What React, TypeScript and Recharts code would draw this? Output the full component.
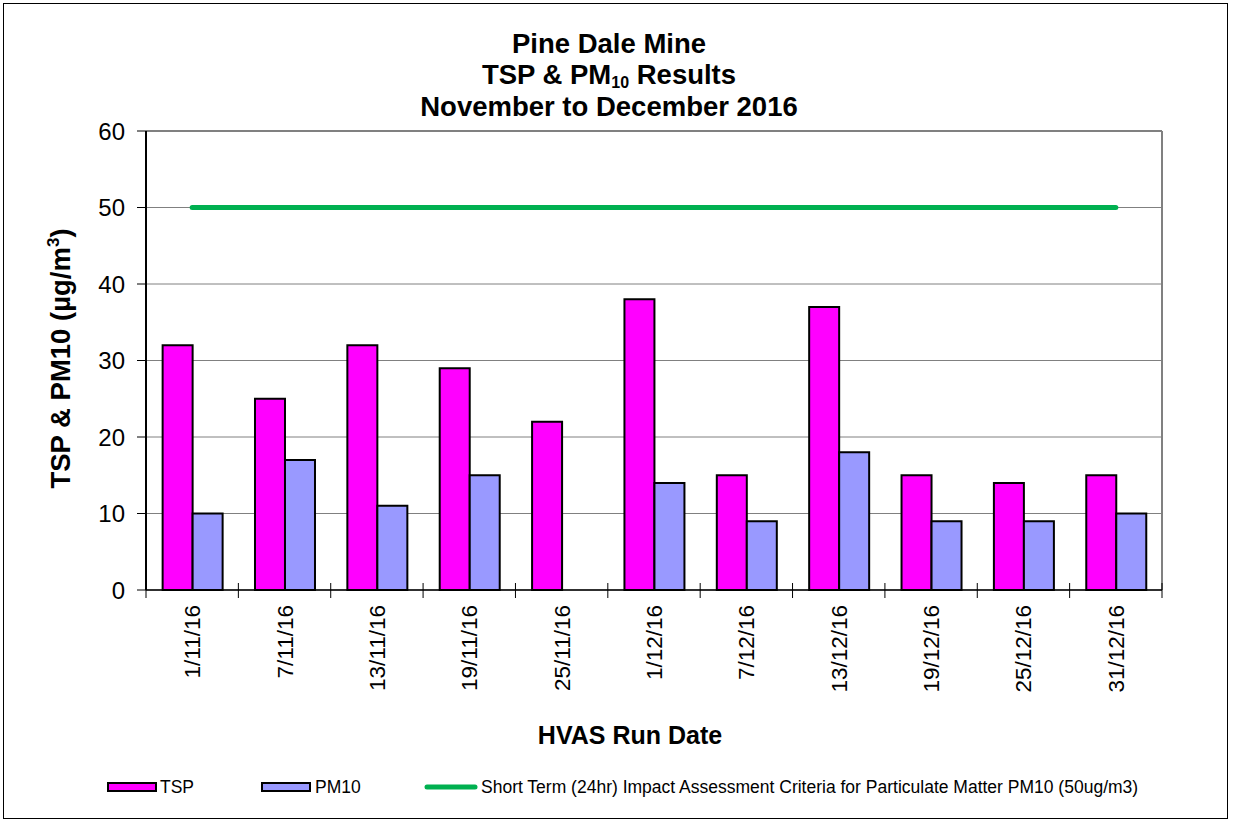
import React from 'react';
import { ComposedChart, Bar, Line, XAxis, YAxis, CartesianGrid, ReferenceLine, Label } from 'recharts';

const categories = ['1/11/16', '7/11/16', '13/11/16', '19/11/16', '25/11/16', '1/12/16', '7/12/16', '13/12/16', '19/12/16', '25/12/16', '31/12/16'];
const tspValues = [32, 25, 32, 29, 22, 38, 15, 37, 15, 14, 15];
const pm10Values: (number | null)[] = [10, 17, 11, 15, null, 14, 9, 18, 9, 9, 10];
const criteriaValues = [50, 50, 50, 50, 50, 50, 50, 50, 50, 50, 50];
const yTicks = [0, 10, 20, 30, 40, 50, 60];

const titleLines = ['Pine Dale Mine', 'TSP & PM', '10', ' Results', 'November to December 2016'];
const legendLabels = ['TSP', 'PM10', 'Short Term (24hr) Impact Assessment Criteria for Particulate Matter PM10 (50ug/m3)'];

const data = categories.map((c, i) => ({
  date: c,
  pos: i + 0.5,
  TSP: tspValues[i],
  PM10: pm10Values[i],
  criteria: criteriaValues[i],
}));

// boundary ticks (integers) carry the tick marks, half positions carry the date labels
const axisTicks = categories.flatMap((_, i) => [i, i + 0.5]).concat([categories.length]);

const FONT = 'Arial, "Liberation Sans", sans-serif';

const DateAxisTick = (props: any) => {
  const { x, y, payload } = props;
  const v = payload.value as number;
  if (Number.isInteger(v)) {
    return <line x1={x} x2={x} y1={y - 7} y2={y + 8} stroke="#000" strokeWidth={1} />;
  }
  const label = categories[Math.floor(v)];
  return (
    <text
      x={0}
      y={0}
      transform={`translate(${x + 8},${y + 15}) rotate(-90)`}
      textAnchor="end"
      fontFamily={FONT}
      fontSize={22.5}
      fill="#000"
    >
      {label}
    </text>
  );
};

const YLabel = (props: any) => {
  const vb = props.viewBox || { y: 131, height: 459 };
  const cy = vb.y + vb.height / 2 - 2;
  return (
    <text
      x={0}
      y={0}
      transform={`translate(70,${cy}) rotate(-90)`}
      textAnchor="middle"
      fontFamily={FONT}
      fontWeight="bold"
      fontSize={27.5}
      fill="#000"
    >
      TSP &amp; PM10 (µg/m
      <tspan fontSize={17} dy={-11}>3</tspan>
      <tspan dy={11}>)</tspan>
    </text>
  );
};

const XLabel = (props: any) => {
  const vb = props.viewBox || { x: 146, width: 1016 };
  return (
    <text
      x={vb.x + vb.width / 2 - 24}
      y={744}
      textAnchor="middle"
      fontFamily={FONT}
      fontWeight="bold"
      fontSize={25}
      fill="#000"
    >
      HVAS Run Date
    </text>
  );
};

export default function App() {
  return (
    <div style={{ position: 'absolute', left: 0, top: 0, width: 1233, height: 823, background: '#fff' }}>
      <div
        style={{
          position: 'absolute',
          left: 3,
          top: 3,
          width: 1225,
          height: 816,
          border: '1px solid #000',
          boxSizing: 'border-box',
        }}
      />
      <ComposedChart
        width={1233}
        height={823}
        data={data}
        margin={{ top: 131, right: 71, left: 0, bottom: 0 }}
        barCategoryGap="18%"
        barGap={0}
        style={{ position: 'absolute', left: 0, top: 0 }}
      >
        <CartesianGrid horizontal vertical={false} stroke="#808080" strokeWidth={1} />
        <XAxis dataKey="date" hide height={0} />
        <XAxis
          xAxisId="b"
          dataKey="pos"
          type="number"
          domain={[0, categories.length]}
          ticks={axisTicks}
          height={233}
          axisLine={{ stroke: '#000', strokeWidth: 1.5 }}
          tickLine={false}
          tickSize={0}
          tickMargin={0}
          tick={<DateAxisTick />}
          interval={0}
          allowDataOverflow
          label={<Label content={<XLabel />} />}
        />
        <YAxis
          width={146}
          domain={[0, 60]}
          ticks={yTicks}
          axisLine={{ stroke: '#000', strokeWidth: 2 }}
          tickLine={{ stroke: '#000', strokeWidth: 1 }}
          tickSize={9}
          tickMargin={12}
          tick={{ fill: '#000', fontSize: 24, fontFamily: FONT }}
          label={<Label content={<YLabel />} />}
        />
        <ReferenceLine y={60} stroke="#808080" strokeWidth={2} />
        <ReferenceLine x={categories.length} xAxisId="b" stroke="#808080" strokeWidth={2} />
        <Bar dataKey="TSP" fill="#FF00FF" stroke="#000" strokeWidth={2} isAnimationActive={false} />
        <Bar dataKey="PM10" fill="#9999FF" stroke="#000" strokeWidth={2} isAnimationActive={false} />
        <Line
          xAxisId="b"
          dataKey="criteria"
          stroke="none"
          strokeWidth={0}
          dot={false}
          activeDot={false}
          legendType="none"
          isAnimationActive={false}
        />
        <Line
          dataKey="criteria"
          stroke="#00B050"
          strokeWidth={5}
          strokeLinecap="round"
          dot={false}
          activeDot={false}
          isAnimationActive={false}
        />
      </ComposedChart>
      <svg
        width={1233}
        height={823}
        style={{ position: 'absolute', left: 0, top: 0, pointerEvents: 'none' }}
      >
        <g fontFamily={FONT} fontWeight="bold" fontSize={27.5} fill="#000" textAnchor="middle">
          <text x={609} y={53}>{titleLines[0]}</text>
          <text x={609} y={84}>
            {titleLines[1]}
            <tspan fontSize={16} dy={4}>{titleLines[2]}</tspan>
            <tspan dy={-4}>{titleLines[3]}</tspan>
          </text>
          <text x={609} y={116}>{titleLines[4]}</text>
        </g>
        <g fontFamily={FONT} fontSize={17.5} fill="#000">
          <rect x={108} y={783} width={48} height={8} fill="#FF00FF" stroke="#000" strokeWidth={2} />
          <text x={160} y={793}>{legendLabels[0]}</text>
          <rect x={262} y={783} width={48} height={8} fill="#9999FF" stroke="#000" strokeWidth={2} />
          <text x={315} y={793}>{legendLabels[1]}</text>
          <line x1={427} x2={475} y1={787} y2={787} stroke="#00B050" strokeWidth={5} strokeLinecap="round" />
          <text x={481} y={793}>{legendLabels[2]}</text>
        </g>
      </svg>
    </div>
  );
}
